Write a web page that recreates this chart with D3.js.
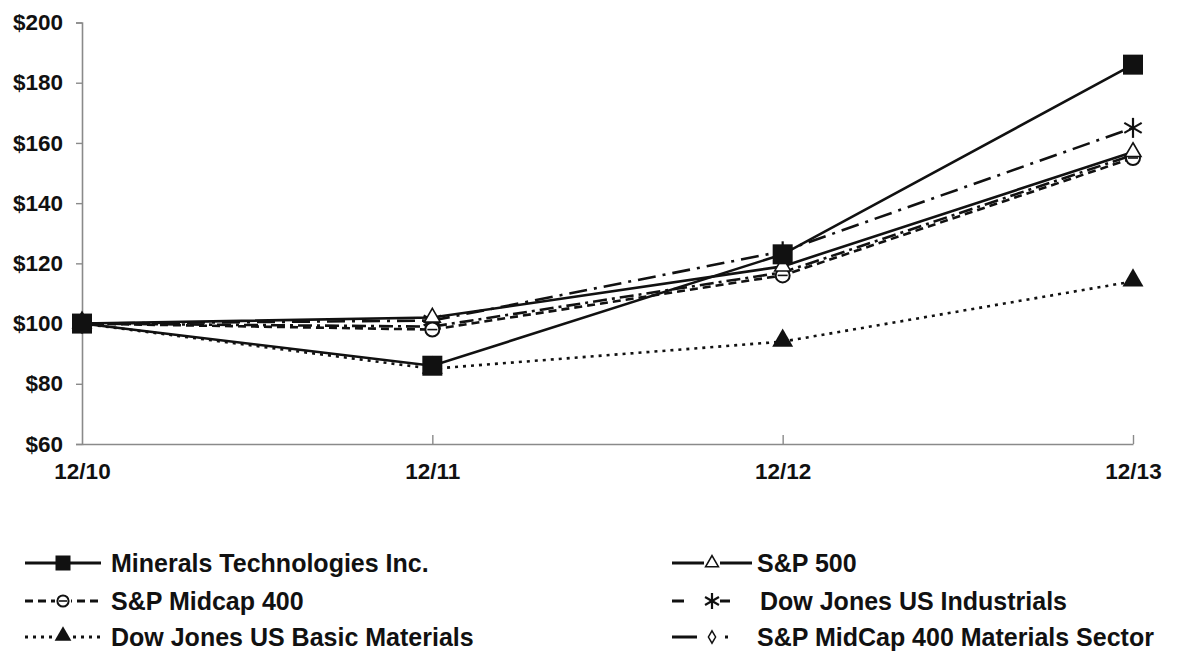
<!DOCTYPE html>
<html>
<head>
<meta charset="UTF-8">
<title>Cumulative total return</title>
<script src="https://d3js.org/d3.v7.min.js"></script>
<style>
  body { margin: 0; background: #fff; }
  text { font-family: "Liberation Sans", Arial, sans-serif; font-weight: bold; fill: #111; }
</style>
</head>
<body>
<svg id="chart" width="1182" height="652"></svg>
<script>
// 年份
var periods = ["12/10", "12/11", "12/12", "12/13"];
// 各指数的值
var minerals    = [100, 86, 123, 186];
var sp500       = [100, 102, 119, 157];
var midcap      = [100, 98, 116, 155];
var industrials = [100, 101, 124, 165];
var basicMat    = [100, 85, 94, 114];
var midcapMat   = [100, 99, 117, 156];
var yTicks = [60, 80, 100, 120, 140, 160, 180, 200];

var series = [
  { name: "S&P MidCap 400 Materials Sector", values: midcapMat, dash: "14,5,3,5", legDash: "25,28,3,200", marker: "diamond" },
  { name: "Dow Jones US Basic Materials", values: basicMat, dash: "3,5", legDash: "3,5", marker: "triFill" },
  { name: "Dow Jones US Industrials", values: industrials, dash: "18,7,3,7", legDash: "12,34,12,200", marker: "star" },
  { name: "S&P Midcap 400", values: midcap, dash: "8,5", legDash: "8,5", marker: "circle" },
  { name: "S&P 500", values: sp500, dash: null, legDash: null, marker: "triOpen" },
  { name: "Minerals Technologies Inc.", values: minerals, dash: null, legDash: null, marker: "square" }
];

var svg = d3.select("#chart");

var x = d3.scalePoint().domain(periods).range([82, 1133]);
var y = d3.scaleLinear().domain([60, 200]).range([444, 22.5]);

// 坐标轴
var gy = svg.append("g").attr("transform", "translate(82,0)")
  .call(d3.axisLeft(y).tickValues(yTicks).tickSize(6).tickPadding(13).tickFormat(function (d) { return "$" + d; }));
var gx = svg.append("g").attr("transform", "translate(0,444)")
  .call(d3.axisBottom(x).tickSizeInner(-9).tickSizeOuter(0).tickPadding(19));
[gx, gy].forEach(function (g) {
  g.select(".domain").attr("stroke", "#8a8a8a").attr("stroke-width", 1.6);
  g.selectAll(".tick line").attr("stroke", "#8a8a8a").attr("stroke-width", 1.4);
  g.selectAll("text").attr("font-size", 22.5).attr("font-family", "Liberation Sans, Arial, sans-serif")
    .attr("font-weight", "bold").attr("fill", "#111");
});
gx.selectAll(".tick line").filter(function (d) { return d === periods[0]; }).remove();

// 标记形状
function drawMarker(g, type, cx, cy, scale) {
  var s = scale || 1;
  if (type === "square") {
    g.append("rect").attr("x", cx - 10 * s).attr("y", cy - 10 * s)
      .attr("width", 20 * s).attr("height", 20 * s).attr("fill", "#111");
  } else if (type === "triOpen") {
    g.append("path").attr("d", d3.symbol(d3.symbolTriangle, 110 * s * s)())
      .attr("transform", "translate(" + cx + "," + cy + ")")
      .attr("fill", "#fff").attr("stroke", "#111").attr("stroke-width", 1.6);
  } else if (type === "triFill") {
    g.append("path").attr("d", d3.symbol(d3.symbolTriangle, 190 * s * s)())
      .attr("transform", "translate(" + cx + "," + (cy - 1) + ")")
      .attr("fill", "#111");
  } else if (type === "circle") {
    g.append("circle").attr("cx", cx).attr("cy", cy).attr("r", 7 * s)
      .attr("fill", "#fff").attr("stroke", "#111").attr("stroke-width", 2);
    g.append("line").attr("x1", cx - 5 * s).attr("x2", cx + 5 * s).attr("y1", cy).attr("y2", cy)
      .attr("stroke", "#111").attr("stroke-width", 1.6);
  } else if (type === "star") {
    var r = 10 * s;
    [[0, -r, 0, r], [-r * 0.87, -r * 0.5, r * 0.87, r * 0.5], [-r * 0.87, r * 0.5, r * 0.87, -r * 0.5]]
      .forEach(function (p) {
        g.append("line").attr("x1", cx + p[0]).attr("y1", cy + p[1]).attr("x2", cx + p[2]).attr("y2", cy + p[3])
          .attr("stroke", "#111").attr("stroke-width", 2.2);
      });
  } else if (type === "diamond") {
    g.append("path").attr("d", d3.symbol(d3.symbolDiamond, 70 * s * s)())
      .attr("transform", "translate(" + cx + "," + cy + ")")
      .attr("fill", "#fff").attr("stroke", "#111").attr("stroke-width", 1.5);
  }
}

var line = d3.line().x(function (d, i) { return x(periods[i]); }).y(function (d) { return y(d); });

var plot = svg.append("g");
series.forEach(function (s) {
  plot.append("path").datum(s.values).attr("d", line)
    .attr("fill", "none").attr("stroke", "#111").attr("stroke-width", 2.6)
    .attr("stroke-dasharray", s.dash);
});
series.forEach(function (s) {
  var g = plot.append("g");
  s.values.forEach(function (v, i) { drawMarker(g, s.marker, x(periods[i]), y(v)); });
});

// 图例
var legend = [
  { s: series[5], col: 0, row: 0 },
  { s: series[3], col: 0, row: 1 },
  { s: series[1], col: 0, row: 2 },
  { s: series[4], col: 1, row: 0 },
  { s: series[2], col: 1, row: 1 },
  { s: series[0], col: 1, row: 2 }
];
// [线起点, 线终点, 标记中心, 文字起点]
var legX = [[25, 101, 63, 111], [672, 752, 712, 757]];
var legTextX = { "Dow Jones US Industrials": 760 };
var legY = [563, 601, 637];

legend.forEach(function (l) {
  var lx = legX[l.col], ly = legY[l.row];
  var g = svg.append("g");
  g.append("line").attr("x1", lx[0]).attr("x2", lx[1]).attr("y1", ly).attr("y2", ly)
    .attr("stroke", "#111").attr("stroke-width", 2.8).attr("stroke-dasharray", l.s.legDash);
  var mx = lx[2];
  if (l.s.marker !== "square") {
    g.append("rect").attr("x", mx - 8).attr("y", ly - 8).attr("width", 16).attr("height", 16).attr("fill", "#fff");
  }
  drawMarker(g, l.s.marker, mx, ly, l.s.marker === "square" ? 0.75 : 0.8);
  g.append("text").attr("x", legTextX[l.s.name] || lx[3]).attr("y", ly).attr("dy", "0.36em")
    .attr("font-size", 25).text(l.s.name);
});
</script>
</body>
</html>
